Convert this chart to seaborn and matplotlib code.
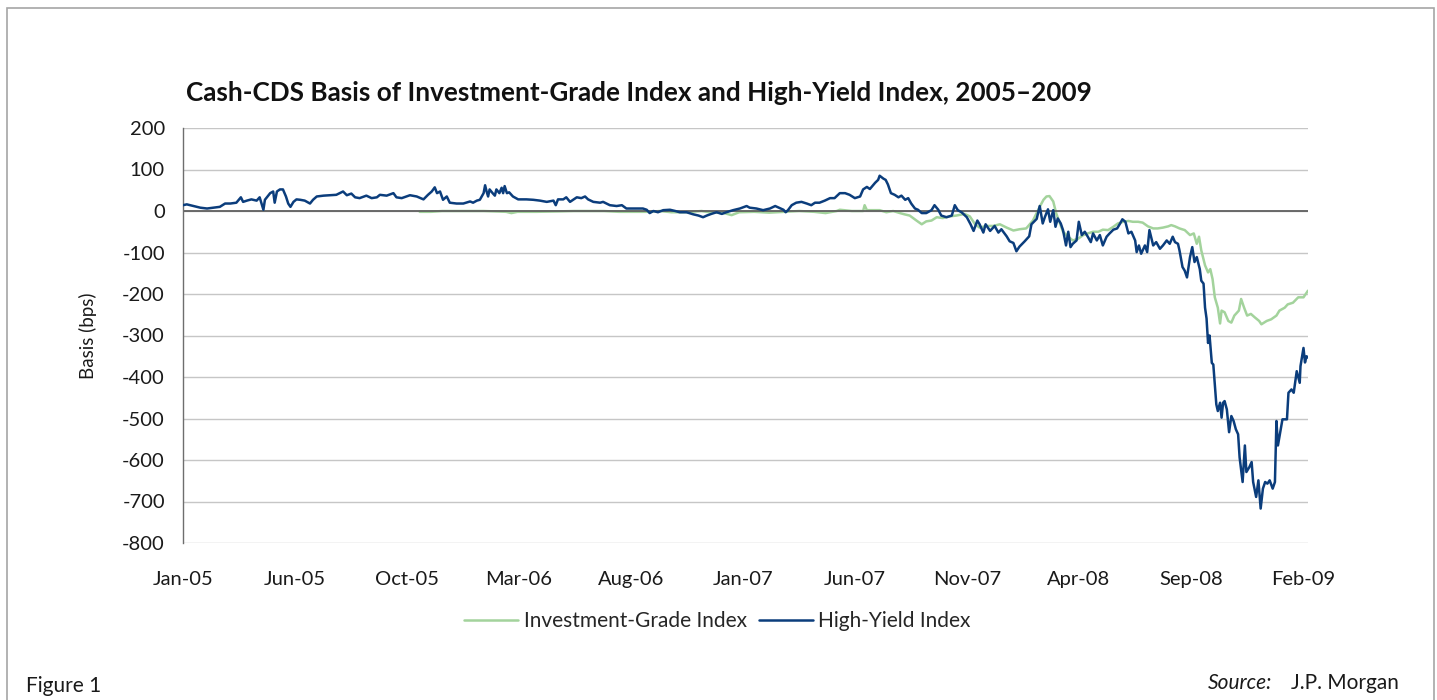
import matplotlib
matplotlib.use("Agg")
import matplotlib.pyplot as plt
from matplotlib.patches import Rectangle
from matplotlib.lines import Line2D
import seaborn as sns
import pandas as pd

# ---------------- data ----------------
start_date = "2005-01-03"
end_day = 1497

hy_days = [
    0, 5, 14, 23, 32, 40, 49, 56, 63, 71,
    77, 80, 85, 91, 98, 102, 107, 109, 116, 120,
    122, 125, 129, 133, 137, 140, 143, 147, 151, 156,
    162, 169, 173, 178, 187, 196, 204, 213, 218, 224,
    229, 235, 244, 251, 258, 262, 271, 280, 284, 291,
    302, 311, 320, 326, 331, 335, 338, 342, 346, 351,
    355, 364, 373, 382, 386, 391, 395, 400, 402, 404,
    406, 408, 412, 415, 417, 421, 424, 426, 428, 431,
    434, 437, 439, 446, 457, 466, 475, 484, 493, 496,
    499, 506, 510, 515, 524, 530, 535, 539, 546, 555,
    559, 568, 577, 584, 590, 604, 612, 617, 621, 626,
    632, 639, 648, 655, 661, 670, 679, 686, 692, 697,
    703, 710, 717, 723, 732, 741, 750, 754, 763, 772,
    781, 788, 794, 799, 802, 805, 810, 816, 823, 830,
    836, 841, 847, 854, 861, 867, 874, 881, 887, 894,
    901, 905, 910, 914, 921, 925, 927, 932, 935, 938,
    942, 947, 952, 956, 961, 965, 969, 974, 978, 983,
    989, 996, 1000, 1005, 1009, 1016, 1023, 1027, 1031, 1036,
    1043, 1048, 1052, 1057, 1060, 1065, 1068, 1074, 1080, 1085,
    1089, 1096, 1100, 1105, 1109, 1113, 1120, 1126, 1129, 1136,
    1140, 1144, 1147, 1151, 1154, 1158, 1161, 1164, 1168, 1171,
    1175, 1178, 1181, 1184, 1189, 1192, 1196, 1200, 1204, 1208,
    1211, 1216, 1220, 1224, 1229, 1233, 1238, 1243, 1247, 1250,
    1254, 1258, 1262, 1267, 1269, 1272, 1275, 1280, 1283, 1286,
    1291, 1295, 1300, 1304, 1309, 1313, 1317, 1320, 1324, 1326,
    1330, 1333, 1336, 1340, 1343, 1346, 1349, 1353, 1355, 1358,
    1360, 1362, 1364, 1366, 1369, 1371, 1373, 1375, 1377, 1380,
    1382, 1384, 1386, 1389, 1392, 1395, 1398, 1401, 1404, 1406,
    1410, 1413, 1415, 1419, 1422, 1424, 1428, 1431, 1434, 1437,
    1440, 1443, 1446, 1450, 1453, 1455, 1457, 1461, 1463, 1469,
    1471, 1475, 1478, 1482, 1486, 1487, 1491, 1493, 1495, 1497,
]
hy_vals = [
    14, 16, 12, 8, 6, 8, 10, 18, 18, 20,
    33, 22, 25, 28, 25, 33, 3, 27, 43, 47,
    20, 47, 52, 52, 35, 18, 10, 22, 28, 27,
    25, 18, 27, 35, 37, 38, 39, 47, 38, 42,
    33, 31, 37, 31, 33, 39, 37, 43, 33, 31,
    38, 35, 28, 39, 47, 57, 43, 47, 27, 35,
    20, 18, 18, 23, 20, 25, 27, 43, 62, 47,
    35, 52, 43, 37, 52, 43, 56, 43, 60, 43,
    45, 39, 35, 28, 28, 27, 25, 22, 25, 14,
    28, 28, 33, 22, 33, 31, 35, 28, 22, 20,
    22, 14, 12, 14, 6, 6, 6, 3, -5, 0,
    -3, 2, 3, 0, -3, -3, -8, -11, -15, -11,
    -7, -3, -7, -3, 2, 6, 12, 8, 6, 2,
    6, 12, 7, 3, -3, 2, 14, 20, 22, 18,
    14, 20, 20, 25, 31, 31, 43, 43, 39, 31,
    35, 52, 58, 53, 68, 75, 85, 78, 75, 64,
    43, 39, 33, 37, 27, 31, 18, 6, 3, -5,
    -5, 2, 14, 3, -11, -15, -11, 14, 2, -3,
    -15, -32, -48, -23, -32, -52, -32, -48, -36, -52,
    -44, -61, -73, -77, -97, -86, -73, -61, -32, -19,
    12, -30, -14, 4, -26, 2, -38, -18, -30, -46,
    -83, -50, -87, -79, -71, -26, -58, -50, -62, -75,
    -54, -71, -58, -83, -62, -54, -45, -42, -30, -20,
    -26, -54, -50, -71, -99, -83, -103, -83, -99, -46,
    -83, -75, -91, -83, -71, -79, -62, -75, -79, -95,
    -135, -144, -160, -111, -87, -123, -111, -140, -168, -175,
    -233, -259, -318, -300, -366, -370, -418, -466, -482, -462,
    -498, -462, -458, -478, -533, -494, -506, -526, -538, -594,
    -653, -565, -629, -617, -605, -653, -689, -649, -717, -669,
    -653, -657, -649, -669, -653, -506, -565, -522, -502, -502,
    -438, -430, -438, -386, -414, -374, -330, -365, -350, -353,
]

ig_days = [
    315, 330, 345, 400, 430, 437, 445, 470, 500, 520,
    560, 580, 600, 620, 635, 650, 670, 690, 700, 720,
    730, 740, 760, 780, 800, 820, 840, 855, 870, 874,
    890, 905, 907, 910, 927, 936, 945, 954, 960, 967,
    976, 983, 989, 996, 1003, 1011, 1020, 1029, 1040, 1047,
    1054, 1060, 1069, 1078, 1087, 1096, 1105, 1113, 1122, 1131,
    1140, 1145, 1149, 1153, 1158, 1162, 1167, 1171, 1178, 1184,
    1191, 1198, 1204, 1211, 1218, 1224, 1231, 1238, 1244, 1251,
    1258, 1264, 1271, 1277, 1284, 1291, 1297, 1304, 1311, 1315,
    1320, 1326, 1333, 1340, 1345, 1349, 1352, 1355, 1360, 1364,
    1367, 1370, 1373, 1377, 1380, 1382, 1386, 1391, 1395, 1399,
    1405, 1408, 1412, 1416, 1421, 1426, 1432, 1435, 1442, 1448,
    1455, 1459, 1466, 1470, 1477, 1484, 1491, 1497,
]
ig_vals = [
    -2, -2, 0, 0, -2, -5, -2, -2, -1, 0,
    0, -2, -2, -2, 0, -3, -3, 0, -3, -5,
    -10, -3, -2, -4, -2, 0, -2, -5, 0, 3,
    0, 0, 14, 2, 2, -3, 0, -5, -8, -11,
    -23, -32, -25, -23, -15, -17, -13, -11, -7, -13,
    -32, -40, -36, -36, -32, -40, -47, -44, -42, -23,
    10, 27, 35, 36, 23, -6, -30, -50, -62, -71,
    -67, -58, -54, -50, -50, -45, -46, -38, -30, -26,
    -24, -26, -26, -28, -37, -42, -42, -40, -37, -34,
    -37, -42, -46, -58, -54, -79, -62, -95, -131, -148,
    -140, -164, -208, -233, -271, -240, -244, -265, -269, -252,
    -240, -212, -233, -252, -248, -256, -265, -273, -265, -261,
    -252, -240, -233, -225, -221, -208, -208, -192,
]

tick_step_days = 149
n_ticks = 11
y_ticks = list(range(-800, 201, 100))

title = "Cash-CDS Basis of Investment-Grade Index and High-Yield Index, 2005\u20132009"
ylabel = "Basis (bps)"
ig_label = "Investment-Grade Index"
hy_label = "High-Yield Index"

HY_COLOR = "#0b3d7c"
IG_COLOR = "#a3d39c"

# ---------------- build frames ----------------
t0 = pd.Timestamp(start_date)
df_hy = pd.DataFrame({"date": t0 + pd.to_timedelta(hy_days, unit="D"), "value": hy_vals})
df_ig = pd.DataFrame({"date": t0 + pd.to_timedelta(ig_days, unit="D"), "value": ig_vals})

sns.set_theme(style="white")
plt.rcParams["font.family"] = ["Lato", "DejaVu Sans"]

fig = plt.figure(figsize=(14.37, 7.0), dpi=100)
ax = fig.add_axes([183 / 1437, 1 - 543 / 700, (1308 - 183) / 1437, (543 - 128) / 700])

sns.lineplot(data=df_ig, x="date", y="value", ax=ax, color=IG_COLOR, lw=1.8, zorder=2)
ax.axhline(0, color="#5f5f5f", lw=1.3, zorder=2.5)
sns.lineplot(data=df_hy, x="date", y="value", ax=ax, color=HY_COLOR, lw=1.8, zorder=3)

ax.set_xlim(t0, t0 + pd.Timedelta(days=end_day))
ax.set_ylim(-800, 200)
ax.set_yticks(y_ticks)
ax.set_yticklabels([str(v) for v in y_ticks])
tick_dates = [t0 + pd.Timedelta(days=tick_step_days * k) for k in range(n_ticks)]
ax.set_xticks(tick_dates)
ax.set_xticklabels([d.strftime("%b-%y") for d in tick_dates])

ax.tick_params(axis="x", length=0, pad=20, labelsize=14.5, colors="#1a1a1a")
ax.tick_params(axis="y", length=0, pad=13, labelsize=14.5, colors="#1a1a1a")
ax.grid(axis="y", color="#c6c6c6", lw=1.0, zorder=0)
ax.grid(axis="x", visible=False)
ax.set_axisbelow(True)
for s in ["top", "right", "bottom"]:
    ax.spines[s].set_visible(False)
ax.spines["left"].set_color("#6e6e6e")
ax.spines["left"].set_linewidth(1.0)

ax.set_xlabel("")
ax.set_ylabel(ylabel, fontsize=13.5, color="#1a1a1a")
ax.yaxis.set_label_coords((97 - 183) / 1125, 0.5)

leg_handles = [Line2D([0], [0], color=IG_COLOR, lw=1.8), Line2D([0], [0], color=HY_COLOR, lw=1.8)]
if ax.get_legend() is not None:
    ax.get_legend().remove()
fig.legend(leg_handles, [ig_label, hy_label], loc="center", bbox_to_anchor=(717.5 / 1437, 1 - 621 / 700),
           ncol=2, frameon=False, fontsize=15, handlelength=2.6, handletextpad=0.25, columnspacing=0.6)

fig.text(186 / 1437, 1 - 93 / 700, title, ha="left", va="center", fontsize=18.8, fontweight="bold", color="#111111")
fig.text(26 / 1437, 1 - 686 / 700, "Figure 1", ha="left", va="center", fontsize=15, color="#1a1a1a")
fig.text(1399 / 1437, 1 - 683 / 700, "J.P. Morgan", ha="right", va="center", fontsize=15, color="#1a1a1a")
fig.text(1272 / 1437, 1 - 683 / 700, "Source:", ha="right", va="center", fontsize=15, style="italic", color="#1a1a1a")

fig.patches.append(Rectangle((7 / 1437, -0.05), (1434 - 7) / 1437, 1 - 8 / 700 + 0.05,
                             transform=fig.transFigure, fill=False, edgecolor="#a6a6a6", lw=1.2))

fig.savefig("out.png", dpi=100, facecolor="white")
